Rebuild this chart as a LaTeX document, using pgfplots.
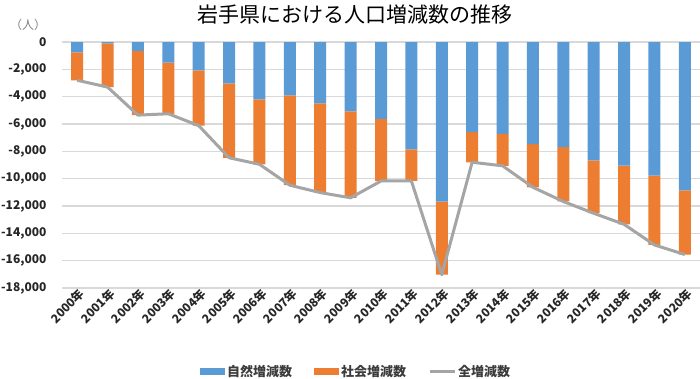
\documentclass[border=0pt]{standalone}
\usepackage{pgfplots}
\pgfplotsset{compat=1.18}
\usepackage{pgfplotstable}
\usepackage{fontspec}
\setmainfont{Noto Sans CJK JP}
\definecolor{cblue}{HTML}{5B9BD5}
\definecolor{corange}{HTML}{ED7D31}
\definecolor{cgray}{HTML}{A5A5A5}
\definecolor{cgrid}{HTML}{D9D9D9}
\definecolor{ctext}{HTML}{262626}
\pgfplotstableread{
x nat soc tot
0 -750 -2050 -2800
1 -100 -3200 -3300
2 -650 -4700 -5350
3 -1500 -3750 -5250
4 -2070 -4050 -6120
5 -3020 -5450 -8470
6 -4190 -4760 -8950
7 -3900 -6580 -10480
8 -4490 -6530 -11020
9 -5080 -6320 -11400
10 -5630 -4540 -10170
11 -7850 -2320 -10170
12 -11680 -5350 -17030
13 -6600 -2200 -8800
14 -6730 -2330 -9060
15 -7480 -3150 -10630
16 -7700 -3970 -11670
17 -8655 -3875 -12530
18 -9050 -4290 -13340
19 -9780 -5070 -14850
20 -10850 -4700 -15550
}\data
\begin{document}
\begin{tikzpicture}
\begin{axis}[
  at={(62pt,-288pt)}, anchor=south west,
  scale only axis, width=638pt, height=246pt,
  xmin=-0.5, xmax=20.5, ymin=-18000, ymax=0,
  ybar stacked, bar width=12pt,
  axis line style={draw=none},
  ymajorgrids, grid style={cgrid, line width=1.3pt},
  ytick={-18000,-16000,...,0},
  xtick={0,...,20},
  xticklabels={2000年,2001年,2002年,2003年,2004年,2005年,2006年,2007年,2008年,2009年,2010年,2011年,2012年,2013年,2014年,2015年,2016年,2017年,2018年,2019年,2020年},
  major tick length=0pt,
  tick label style={font=\fontsize{12}{12}\selectfont\bfseries, text=ctext},
  xticklabel style={rotate=45, anchor=east, yshift=-6pt, xshift=2pt, inner sep=1pt},
  yticklabel style={xshift=-12pt},
  /pgf/number format/assume math mode=true,
  /pgf/number format/1000 sep={,},
  scaled y ticks=false,
  legend columns=3,
  legend style={at={(0.461,-0.341)}, anchor=center, draw=none, fill=none,
    font=\fontsize{13}{13}\selectfont\bfseries, text=ctext!90,
    /tikz/every even column/.append style={column sep=20pt},
    /tikz/every odd column/.append style={column sep=0pt}},
]
\addplot[fill=cblue, draw=none, legend image code/.code={\fill[cblue] (0pt,-3.5pt) rectangle (25pt,3.5pt);}] table[x=x, y=nat] {\data};
\addlegendentry{自然増減数}
\addplot[fill=corange, draw=none, legend image code/.code={\fill[corange] (0pt,-3.5pt) rectangle (25pt,3.5pt);}] table[x=x, y=soc] {\data};
\addlegendentry{社会増減数}
\addlegendimage{legend image code/.code={\draw[cgray, line width=3pt] (0pt,0pt) -- (25pt,0pt);}}
\addlegendentry{全増減数}
\end{axis}
\begin{axis}[
  at={(62pt,-288pt)}, anchor=south west,
  scale only axis, width=638pt, height=246pt,
  xmin=-0.5, xmax=20.5, ymin=-18000, ymax=0,
  hide axis,
]
\addplot[cgray, line width=3pt, line join=round, mark=none] table[x=x, y=tot] {\data};
\end{axis}
\node[font=\fontsize{21}{21}\selectfont] at (355pt,-15pt) {岩手県における人口増減数の推移};
\node[font=\fontsize{12}{12}\selectfont, text=gray] at (28pt,-25pt) {（人）};
\pgfresetboundingbox
\path (0pt,0pt) rectangle (700pt,-379pt);
\end{tikzpicture}
\end{document}
